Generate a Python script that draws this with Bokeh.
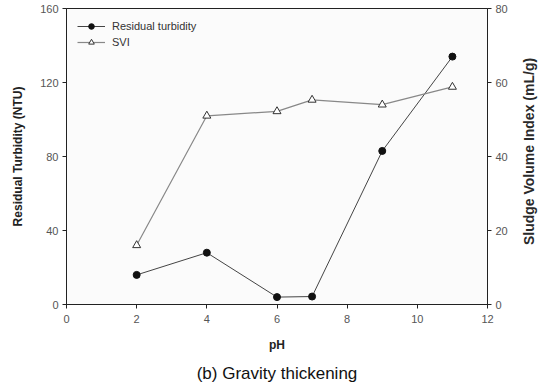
import math
from bokeh.plotting import figure
from bokeh.models import (LinearAxis, Range1d, FixedTicker, Legend, LegendItem,
                          Title, Label)
from bokeh.embed import file_html
from bokeh.resources import INLINE

ph = [2, 4, 6, 7, 9, 11]
turbidity = [16, 28, 4, 4.3, 83, 134]
svi = [16, 51, 52.2, 55.3, 54, 58.8]

x_ticks = [0, 2, 4, 6, 8, 10, 12]
left_ticks = [0, 40, 80, 120, 160]
right_ticks = [0, 20, 40, 60, 80]

FONT = "Liberation Sans"

p = figure(width=544, height=391, output_backend="svg", toolbar_location=None,
           x_range=Range1d(0, 12), y_range=Range1d(0, 160),
           min_border_left=66, min_border_right=57, min_border_top=8,
           min_border_bottom=87)
p.extra_y_ranges = {"svi": Range1d(0, 80)}

p.background_fill_color = "#fbfbfb"
p.border_fill_color = "white"
p.outline_line_color = "#222222"
p.outline_line_width = 1
p.grid.visible = False


def style_axis(ax, ticks):
    ax.ticker = FixedTicker(ticks=ticks)
    ax.axis_line_color = "#222222"
    ax.major_tick_line_color = "#222222"
    ax.major_tick_in = 0
    ax.major_tick_out = 4
    ax.minor_tick_line_color = None
    ax.major_label_text_font = FONT
    ax.major_label_text_font_size = "11px"
    ax.major_label_text_color = "#555555"
    ax.axis_label_text_font = FONT
    ax.axis_label_text_font_size = "12px"
    ax.axis_label_text_font_style = "bold"
    ax.axis_label_text_color = "#222222"


style_axis(p.xaxis[0], x_ticks)
p.xaxis[0].axis_label = "pH"
p.xaxis[0].axis_label_standoff = 12
p.xaxis[0].major_label_standoff = 6

style_axis(p.yaxis[0], left_ticks)
p.yaxis[0].axis_label = "Residual Turbidity (NTU)"
p.yaxis[0].axis_label_standoff = 12
p.yaxis[0].major_label_standoff = 4

right = LinearAxis(y_range_name="svi")
style_axis(right, right_ticks)
right.major_label_standoff = 4
p.add_layout(right, "right")

# right-hand title, reading bottom to top like the left one
p.add_layout(Label(x=18, y=153, x_units="screen", y_units="screen",
                   text="Sludge Volume Index (mL/g)", angle=math.pi / 2,
                   text_font=FONT, text_font_size="14px", text_font_style="bold",
                   text_color="#2a2a2a", text_align="center",
                   text_baseline="middle"), "right")

l1 = p.line(ph, turbidity, line_color="#444444", line_width=1)
c1 = p.scatter(ph, turbidity, marker="circle", size=7, fill_color="#111111",
               line_color="#111111")
l2 = p.line(ph, svi, y_range_name="svi", line_color="#888888", line_width=1.2)
c2 = p.scatter(ph, svi, y_range_name="svi", marker="triangle", size=8,
               fill_color="white", line_color="#333333")

legend = Legend(items=[LegendItem(label="Residual turbidity", renderers=[l1, c1]),
                       LegendItem(label="SVI", renderers=[l2, c2])],
                location="top_left")
legend.background_fill_alpha = 0
legend.border_line_alpha = 0
legend.label_text_font = FONT
legend.label_text_font_size = "11px"
legend.label_text_color = "#333333"
legend.glyph_width = 28
legend.glyph_height = 14
legend.spacing = 2
legend.padding = 4
legend.margin = 7
legend.label_standoff = 7
p.add_layout(legend)

caption = Title(text="(b) Gravity thickening", align="center", offset=-2,
                text_font=FONT, text_font_size="17px",
                text_font_style="normal", text_color="#111111", standoff=14)
p.add_layout(caption, "below")

open("out.html", "w").write(file_html(p, INLINE))
